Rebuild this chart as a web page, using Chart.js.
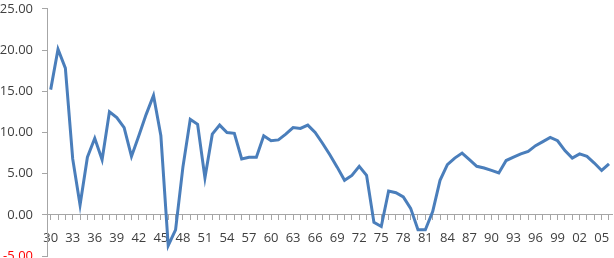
<!DOCTYPE html>
<html>
<head>
<meta charset="utf-8">
<script src="https://cdn.jsdelivr.net/npm/chart.js@4/dist/chart.umd.min.js"></script>
<style>
  html, body { margin: 0; padding: 0; background: #fff; overflow: hidden; }
  #wrap { position: absolute; left: 0; top: -8px; width: 620px; height: 281px; }
</style>
</head>
<body>
<div id="wrap"><canvas id="chart"></canvas></div>
<script>
// years 1930 - 2006
const years = [];
for (let y = 1930; y <= 2006; y++) years.push(String(y % 100).padStart(2, '0'));

// values
const values = [
  15.2, 20.1, 17.8, 6.8, 1.2, 7.0, 9.3, 6.7, 12.5, 11.8,
  10.6, 7.1, 9.6, 12.2, 14.5, 9.6, -3.7, -1.8, 5.8, 11.6,
  11.0, 4.5, 9.8, 10.9, 10.0, 9.9, 6.8, 7.0, 7.0, 9.6,
  9.0, 9.1, 9.8, 10.6, 10.5, 10.9, 10.0, 8.7, 7.3, 5.8,
  4.2, 4.8, 5.9, 4.8, -0.9, -1.4, 2.9, 2.7, 2.2, 0.8,
  -1.8, -1.8, 0.4, 4.2, 6.1, 6.9, 7.5, 6.7, 5.9, 5.7,
  5.4, 5.1, 6.6, 7.0, 7.4, 7.7, 8.4, 8.9, 9.4, 9.0,
  7.8, 6.9, 7.4, 7.1, 6.3, 5.4, 6.2
];

const yTicks = [-5, 0, 5, 10, 15, 20, 25];

const axisColor = '#a6a6a6';
const textColor = '#404040';

new Chart(
    document.getElementById('chart'),
    {
        type: 'line',
        data: {
            labels: years,
            datasets: [{
                data: values,
                borderColor: '#4a7ebb',
                borderWidth: 3,
                pointRadius: 0,
                tension: 0,
                fill: false
            }]
        },
        options: {
            responsive: true,
            maintainAspectRatio: false,
            animation: false,
            layout: { padding: { top: 0, right: 0, left: 0, bottom: 0 } },
            plugins: {
                legend: { display: false },
                tooltip: { enabled: false }
            },
            scales: {
                x: {
                    position: { y: 0 },
                    offset: true,
                    afterFit: s => { s.height = 30; },
                    border: { color: axisColor, width: 1 },
                    grid: {
                        display: true,
                        drawOnChartArea: false,
                        drawTicks: true,
                        tickLength: 5,
                        color: axisColor
                    },
                    ticks: {
                        autoSkip: false,
                        maxRotation: 0,
                        padding: 11,
                        color: textColor,
                        font: { family: 'Open Sans', size: 13 },
                        callback: (v, i) => (i % 3 === 0 ? years[i] : '')
                    }
                },
                y: {
                    min: -5,
                    max: 25,
                    afterFit: s => { s.width = 47; },
                    afterBuildTicks: s => { s.ticks = yTicks.map(v => ({ value: v })); },
                    border: { color: axisColor, width: 1 },
                    grid: {
                        display: true,
                        drawOnChartArea: false,
                        drawTicks: true,
                        tickLength: 5,
                        color: axisColor
                    },
                    ticks: {
                        padding: 9,
                        color: ctx => (ctx.tick.value < 0 ? '#ff0000' : textColor),
                        font: { family: 'Open Sans', size: 13 },
                        callback: v => v.toFixed(2)
                    }
                }
            }
        }
    }
);
</script>
</body>
</html>
